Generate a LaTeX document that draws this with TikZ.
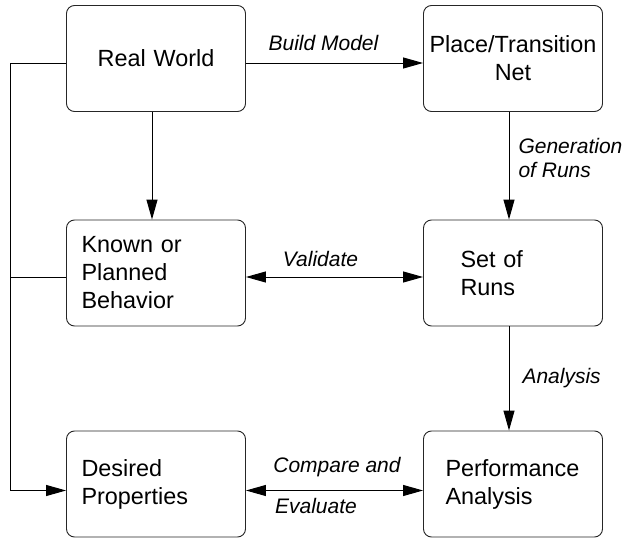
\documentclass[tikz,border=0pt]{standalone}
\usepackage{fontspec}
\setsansfont{Liberation Sans}
\usetikzlibrary{positioning, arrows.meta, calc}

\begin{document}
\begin{tikzpicture}[x=1pt, y=-1pt, font=\sffamily]

        % Styles
        \tikzstyle{box} = [draw=black!85, line width=0.9pt, rounded corners=8pt, minimum width=179pt, minimum height=106pt, font=\sffamily\fontsize{23.4}{28}\selectfont]
        \tikzstyle{lbl} = [font=\sffamily\itshape\fontsize{21}{24}\selectfont, align=left]
        \tikzstyle{arr} = [line width=1pt, -{Triangle[length=20pt, width=11pt]}]
        \tikzstyle{darr} = [line width=1pt, {Triangle[length=20pt, width=11pt]}-{Triangle[length=20pt, width=11pt]}]
        \tikzstyle{rail} = [line width=1pt]

        \useasboundingbox (0,0) rectangle (625,538);

        % --- BOXES ---
        \node[box, align=center, text width=169pt, inner xsep=5pt] (real) at (156,58.5) {Real World};
        \node[box, align=center, text width=169pt, inner xsep=5pt] (ptnet) at (513,58.5) {Place/Transition\\Net};
        \node[box, align=left, text width=149pt, inner xsep=15pt] (known) at (156,273) {Known or\\Planned\\Behavior};
        \node[box, align=left, text width=105pt, inner xsep=37pt] (runs) at (513,273) {Set of\\Runs};
        \node[box, align=left, text width=149pt, inner xsep=15pt] (desired) at (156,484) {Desired\\Properties};
        \node[box, align=left, text width=135pt, inner xsep=22pt] (perf) at (513,484) {Performance\\Analysis};

        % --- CONNECTORS ---
        \draw[arr] ([yshift=-4.5pt]real.east) -- ([yshift=-4.5pt]ptnet.west)
            node[lbl, midway, above=8pt, xshift=-11pt] {Build Model};
        \draw[arr] ([xshift=-4pt]real.south) -- ([xshift=-4pt]known.north);
        \draw[arr] ([xshift=-4pt]ptnet.south) -- ([xshift=-4pt]runs.north)
            node[lbl, midway, right=5.7pt, yshift=7.5pt] {Generation\\of Runs};
        \draw[darr] ([yshift=-4pt]known.east) -- ([yshift=-4pt]runs.west)
            node[lbl, midway, above=6pt, xshift=-14pt] {Validate};
        \draw[arr] ([xshift=-4pt]runs.south) -- ([xshift=-4pt]perf.north)
            node[lbl, midway, right=9.7pt] {Analysis};
        \draw[darr] ([yshift=-6.5pt]desired.east) -- ([yshift=-6.5pt]perf.west)
            node[lbl, midway, above=10pt, xshift=2.5pt] {Compare and}
            node[lbl, midway, below=4pt, xshift=-18.5pt] {Evaluate};

        % Left rail
        \coordinate (bend) at (10,63);
        \draw[arr] ([yshift=-4.5pt]real.west) -- (bend) |- ([yshift=-6.5pt]desired.west);
        \draw[rail] ([yshift=-4pt]known.west) -| (bend);

    \end{tikzpicture}
\end{document}
